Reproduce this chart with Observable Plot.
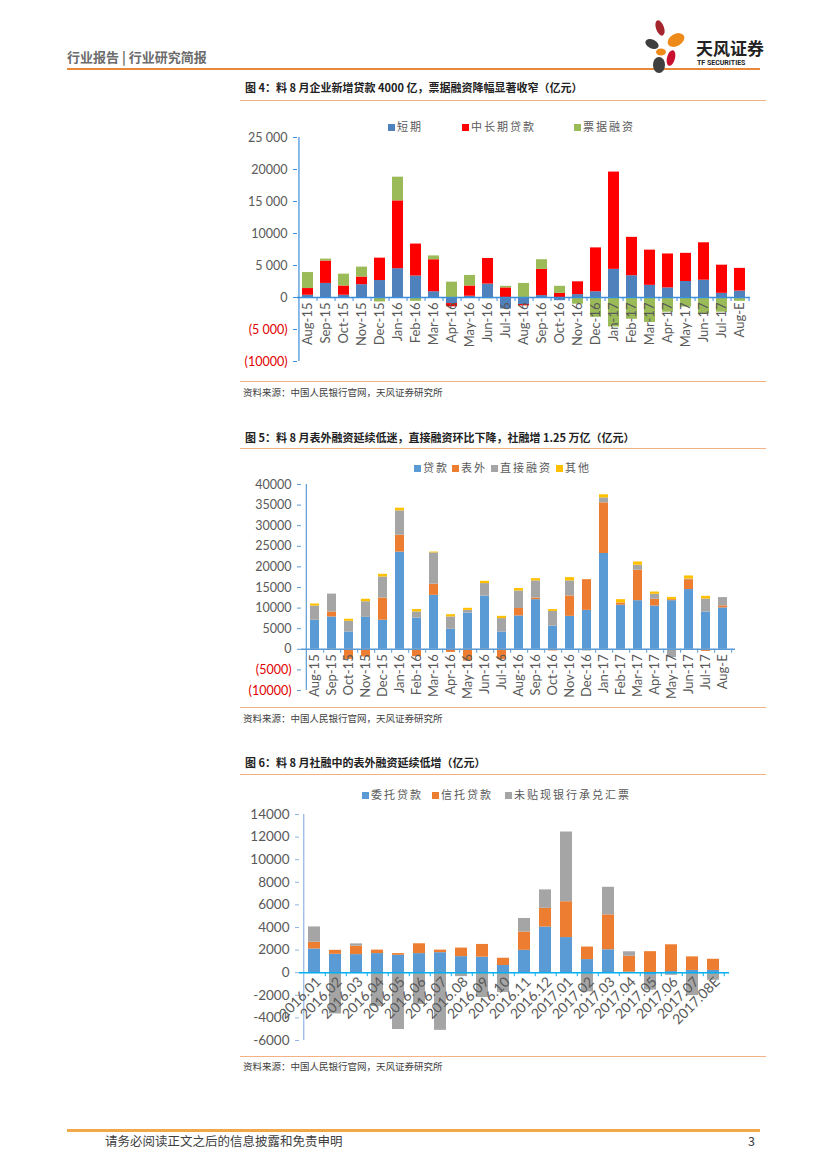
<!DOCTYPE html>
<html><head><meta charset="utf-8">
<script src="https://cdn.jsdelivr.net/npm/d3@7"></script>
<script src="https://cdn.jsdelivr.net/npm/@observablehq/plot@0.6"></script>
<style>
body{margin:0;background:#fff;}
#page{position:relative;width:827px;height:1169px;overflow:hidden;background:#fff;font-family:"Noto Sans CJK SC","Noto Sans",sans-serif;}
.abs{position:absolute;white-space:nowrap;line-height:1;}
.svgwrap{position:absolute;left:230px;}
</style></head><body><div id="page"></div>
<script>
// ---------- data: chart 1 (图4) ----------
const cats1 = ["Aug-15","Sep-15","Oct-15","Nov-15","Dec-15","Jan-16","Feb-16","Mar-16","Apr-16","May-16","Jun-16","Jul-16","Aug-16","Sep-16","Oct-16","Nov-16","Dec-16","Jan-17","Feb-17","Mar-17","Apr-17","May-17","Jun-17","Jul-17","Aug-E"];
const names1 = ["短期","中长期贷款","票据融资"];
const short1 = [350,2200,350,2000,2650,4500,3350,900,-950,200,2100,-1800,-1100,300,-500,450,900,4400,3400,1900,1500,2500,2700,650,1000];
const mid1   = [1050,3500,1450,1200,3500,10600,5000,5000,-500,1600,4000,1500,-200,4100,650,2000,6850,15200,6000,5500,5300,4400,5850,4400,3550];
const bill1  = [2500,300,1850,1550,-700,3700,-600,600,2400,1650,-200,250,2200,1500,1100,-1050,-3100,-4600,-3400,-3900,-2300,-1500,-2600,-2300,-600];
const ticks1 = [25000,20000,15000,10000,5000,0,-5000,-10000];
const tickLabels1 = ["25 000","20000","15 000","10000","5 000","0","(5 000)","(10000)"];

// ---------- data: chart 2 (图5) ----------
const cats2 = cats1;
const names2 = ["贷款","表外","直接融资","其他"];
const loan2   = [7050,7850,4200,7750,7050,23600,7550,13100,4850,8800,12900,4200,8100,12050,5600,8000,9450,23250,10700,11800,10500,11800,14500,9050,10050];
const off2    = [0,1200,-2450,-1850,5400,4100,-1800,2700,-750,-2850,-100,-2500,1800,400,-400,4950,7450,12300,550,7400,1650,250,2400,-500,500];
const direct2 = [3450,4350,2600,3800,5100,5900,1500,7600,3000,650,3050,3250,4250,4150,3600,3650,-400,1200,-300,1200,1200,-2000,150,3150,2000];
const other2  = [500,-200,500,600,650,650,600,200,550,500,550,550,600,550,450,800,0,750,800,800,550,550,750,650,0];
const ticks2 = [40000,35000,30000,25000,20000,15000,10000,5000,0,-5000,-10000];
const tickLabels2 = ["40000","35000","30000","25000","20000","15000","10000","5000","0","(5000)","(10000)"];

// ---------- data: chart 3 (图6) ----------
const cats3 = ["2016.01","2016.02","2016.03","2016.04","2016.05","2016.06","2016.07","2016.08","2016.09","2016.10","2016.11","2016.12","2017.01","2017.02","2017.03","2017.04","2017.05","2017.06","2017.07","2017.08E"];
const names3 = ["委托贷款","信托贷款","未贴现银行承兑汇票"];
const entrust3 = [2100,1630,1600,1690,1540,1690,1770,1420,1370,640,1980,4040,3110,1160,2030,50,-230,100,200,200];
const trust3   = [600,350,750,310,150,870,230,760,1130,640,1620,1660,3170,1110,3090,1400,1860,2370,1200,990];
const bills3   = [1350,-3650,200,-3000,-5030,-2800,-5100,-350,-2200,-1750,1200,1630,6170,-1700,2440,400,-1310,-230,-2030,-670];
const ticks3 = [14000,12000,10000,8000,6000,4000,2000,0,-2000,-4000,-6000];
const tickLabels3 = ["14000","12000","10000","8000","6000","4000","2000","0","-2000","-4000","-6000"];

// ---------- page helpers ----------
const page = document.getElementById("page");
function txt(t, x, y, css){const d=document.createElement("div");d.className="abs";d.textContent=t;d.style.left=x+"px";d.style.top=y+"px";Object.assign(d.style,css||{});page.appendChild(d);return d;}
function hline(x1,x2,y,h,color){const d=document.createElement("div");d.className="abs";Object.assign(d.style,{left:x1+"px",top:y+"px",width:(x2-x1)+"px",height:h+"px",background:color});page.appendChild(d);}
function legend(items, y){
  items.forEach(it=>{
    const sq=document.createElement("div");sq.className="abs";
    Object.assign(sq.style,{left:it.x+"px",top:(y-3.5)+"px",width:"7px",height:"7px",background:it.color});page.appendChild(sq);
    txt(it.name,it.x+9,y-6.5,{fontSize:"11px",letterSpacing:"2px",color:"#595959"});
  });
}

// header
txt("行业报告 | 行业研究简报",67,50,{fontSize:"13px",fontWeight:"bold",color:"#6b6b6b"});
hline(67,760,68,2,"#e8883a");
const logo=document.createElementNS("http://www.w3.org/2000/svg","svg");
logo.setAttribute("width","60");logo.setAttribute("height","60");
logo.style.cssText="position:absolute;left:640px;top:18px;";
logo.innerHTML=`
<ellipse cx="20" cy="10" rx="4" ry="8" fill="#a4262c" transform="rotate(-20 20 10)"/>
<ellipse cx="36" cy="22" rx="9" ry="6" fill="#ed8a1a" transform="rotate(-30 36 22)"/>
<ellipse cx="12" cy="26" rx="7" ry="4.5" fill="#3f3f3f" transform="rotate(25 12 26)"/>
<ellipse cx="21" cy="34" rx="5" ry="3.5" fill="#ed8a1a"/>
<ellipse cx="31" cy="40" rx="4" ry="8" fill="#c8102e" transform="rotate(15 31 40)"/>
<ellipse cx="19" cy="47" rx="6" ry="8" fill="#3f3f3f"/>`;
page.appendChild(logo);
txt("天风证券",696,39,{fontSize:"17px",fontWeight:"bold",color:"#222"});
txt("TF SECURITIES",697,60,{fontSize:"7px",fontWeight:"bold",color:"#222",fontFamily:"Roboto, sans-serif"});

// titles, rules, sources
const titleCss={fontSize:"11px",fontWeight:"bold",color:"#222"};
const srcCss={fontSize:"9.5px",color:"#404040"};
txt("图 4：料 8 月企业新增贷款 4000 亿，票据融资降幅显著收窄（亿元）",245,82,titleCss);
hline(240,766,100,1,"#f4b183");
hline(240,766,381,1,"#f4b183");
txt("资料来源：中国人民银行官网，天风证券研究所",243,388,srcCss);

txt("图 5：料 8 月表外融资延续低迷，直接融资环比下降，社融增 1.25 万亿（亿元）",245,432,titleCss);
hline(240,766,448,1,"#f4b183");
hline(240,766,707,1,"#f4b183");
txt("资料来源：中国人民银行官网，天风证券研究所",243,714,srcCss);

txt("图 6：料 8 月社融中的表外融资延续低增（亿元）",245,757,titleCss);
hline(240,766,774,1,"#f4b183");
hline(240,766,1056,1,"#f4b183");
txt("资料来源：中国人民银行官网，天风证券研究所",243,1062,srcCss);

// footer
hline(67,760,1129,3,"#f0a848");
txt("请务必阅读正文之后的信息披露和免责申明",105,1135,{fontSize:"12.5px",color:"#404040"});
txt("3",748,1135,{fontSize:"12.5px",color:"#404040"});

// ---------- chart builder ----------
function chart(o){
  const width=540;
  const rows=[];
  o.names.forEach((n,si)=>o.series[si].forEach((v,i)=>rows.push({cat:o.cats[i],series:n,value:v})));
  const step=(width-o.ml-o.mr)/o.cats.length;
  const fmt=new Map(o.ticks.map((t,i)=>[t,o.labels[i]]));
  const pos=o.ticks.filter(t=>t>=0), neg=o.ticks.filter(t=>t<0);
  const svg=Plot.plot({
    width, height:o.height, marginLeft:o.ml, marginRight:o.mr, marginTop:o.mt, marginBottom:o.mb,
    style:{background:"transparent",fontFamily:"Lato, 'Noto Sans', sans-serif",fontSize:o.tickFont+"px",overflow:"visible",color:"#595959"},
    x:{type:"band",domain:o.cats,paddingInner:o.pad,paddingOuter:o.pad/2,axis:null},
    y:{domain:o.domain},
    color:{domain:o.names,range:o.colors},
    marks:[
      Plot.barY(rows,{x:"cat",y:"value",fill:"series"}),
      Plot.ruleX([o.cats[0]],{dx:-step/2,stroke:o.axisColor,strokeWidth:1.2}),
      Plot.axisY({ticks:pos,tickFormat:d=>fmt.get(d),tickSize:4,stroke:o.axisColor,fill:"#595959",label:null,tickPadding:6,fontSize:o.tickFont}),
      ...(neg.length?[Plot.axisY({ticks:neg,tickFormat:d=>fmt.get(d),tickSize:4,stroke:o.axisColor,fill:o.negColor,label:null,tickPadding:6,fontSize:o.tickFont})]:[]),
      Plot.ruleY([0],{stroke:o.zeroColor,strokeWidth:1.5}),
      Plot.ruleX(o.cats,{x:d=>d,y1:d=>0,y2:d=>0,dx:step/2,insetBottom:-4,stroke:o.zeroColor}),
      Plot.text(o.cats,{x:d=>d,y:d=>0,text:d=>d,rotate:o.rotate,textAnchor:"end",lineAnchor:"middle",dx:o.dx,dy:o.dy,fill:"#595959",fontSize:o.labelFont})
    ]
  });
  const wrap=document.createElement("div");wrap.className="svgwrap";wrap.style.top=o.top+"px";
  wrap.appendChild(svg);page.appendChild(wrap);
}

chart({cats:cats1,names:names1,series:[short1,mid1,bill1],colors:["#4f81bd","#ff0000","#9bbb59"],
  domain:[-10000,25000],ticks:ticks1,labels:tickLabels1,top:128,height:245,ml:67,mr:20,mt:9,mb:12,pad:0.4,
  axisColor:"#3c8ddc",zeroColor:"#3c8ddc",negColor:"#e00000",rotate:-90,labelFont:13,tickFont:12.5,dx:0,dy:5});
legend([{name:names1[0],color:"#4f81bd",x:388},{name:names1[1],color:"#ff0000",x:462},{name:names1[2],color:"#9bbb59",x:574}],127);

chart({cats:cats2,names:names2,series:[loan2,off2,direct2,other2],colors:["#5b9bd5","#ed7d31","#a5a5a5","#ffc000"],
  domain:[-10000,40000],ticks:ticks2,labels:tickLabels2,top:476,height:226,ml:71,mr:35,mt:8,mb:12,pad:0.48,
  axisColor:"#5b9bd5",zeroColor:"#5b9bd5",negColor:"#e00000",rotate:-90,labelFont:13,tickFont:12.5,dx:0,dy:5});
legend([{name:names2[0],color:"#5b9bd5",x:414},{name:names2[1],color:"#ed7d31",x:452},{name:names2[2],color:"#a5a5a5",x:491},{name:names2[3],color:"#ffc000",x:556}],468);

chart({cats:cats3,names:names3,series:[entrust3,trust3,bills3],colors:["#5b9bd5","#ed7d31","#a5a5a5"],
  domain:[-6000,14000],ticks:ticks3,labels:tickLabels3,top:805,height:246,ml:69,mr:41,mt:9,mb:11,pad:0.42,
  axisColor:"#8eb4e3",zeroColor:"#00b0f0",negColor:"#595959",rotate:-45,labelFont:14,tickFont:13.5,dx:4,dy:7});
legend([{name:names3[0],color:"#5b9bd5",x:362},{name:names3[1],color:"#ed7d31",x:432},{name:names3[2],color:"#a5a5a5",x:505}],795);
</script></body></html>
